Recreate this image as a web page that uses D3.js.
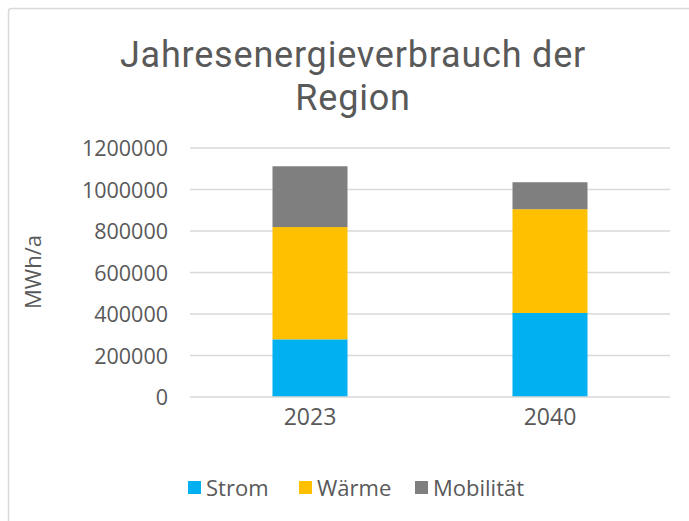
<!DOCTYPE html>
<html>
<head>
<meta charset="utf-8">
<script src="https://cdn.jsdelivr.net/npm/d3@7"></script>
<style>
  html, body { margin: 0; padding: 0; background: #ffffff; }
  svg { display: block; }
  text { font-family: "Open Sans", "DejaVu Sans", sans-serif; fill: #595959; }
  .chart-title { font-family: Roboto, "Open Sans", sans-serif; font-weight: 400; letter-spacing: 0.8px; }
</style>
</head>
<body>
<svg id="chart" width="689" height="521"></svg>
<script>
// Annual energy consumption per year, stacked by sector (MWh/a)
const years = ["2023", "2040"];
const seriesNames = ["Strom", "Wärme", "Mobilität"];
const strom = [278000, 405000];
const waerme = [541000, 500000];
const mobilitaet = [293000, 130000];
const yTicks = [0, 200000, 400000, 600000, 800000, 1000000, 1200000];
const colors = ["#00B0F0", "#FFC000", "#7F7F7F"];

const rows = years.map((y, i) => ({
  year: y, "Strom": strom[i], "Wärme": waerme[i], "Mobilität": mobilitaet[i]
}));

const plot = { left: 190, right: 670, top: 148, bottom: 397 };

const svg = d3.select("#chart");

// chart frame
svg.append("rect")
  .attr("x", 8.5).attr("y", 8.5)
  .attr("width", 700).attr("height", 540)
  .attr("rx", 3)
  .attr("fill", "#ffffff")
  .attr("stroke", "#d9d9d9")
  .attr("stroke-width", 1.5);

const x = d3.scaleBand().domain(years).range([plot.left, plot.right]).paddingInner(0.6875).paddingOuter(0.34375);
const y = d3.scaleLinear().domain([0, 1200000]).range([plot.bottom, plot.top]);

// gridlines
svg.append("g").selectAll("line")
  .data(yTicks.filter(t => t > 0))
  .join("line")
  .attr("x1", plot.left).attr("x2", plot.right)
  .attr("y1", d => y(d)).attr("y2", d => y(d))
  .attr("stroke", "#d9d9d9").attr("stroke-width", 1.5);

// y axis labels
const yAxis = d3.axisLeft(y).tickValues(yTicks).tickFormat(d3.format("d")).tickSize(0).tickPadding(22);
const gy = svg.append("g").attr("transform", `translate(${plot.left},0)`).call(yAxis);
gy.select(".domain").remove();
gy.selectAll("text").style("font-size", "21.5px").attr("fill", "#595959").attr("dy", "0.35em");

// stacked bars
const stack = d3.stack().keys(seriesNames);
const layers = stack(rows);
svg.append("g").selectAll("g")
  .data(layers)
  .join("g")
  .attr("fill", (d, i) => colors[i])
  .selectAll("rect")
  .data(d => d)
  .join("rect")
  .attr("x", d => x(d.data.year))
  .attr("width", x.bandwidth())
  .attr("y", d => y(d[1]))
  .attr("height", d => y(d[0]) - y(d[1]));

// baseline
svg.append("line")
  .attr("x1", plot.left).attr("x2", plot.right)
  .attr("y1", y(0)).attr("y2", y(0))
  .attr("stroke", "#d9d9d9").attr("stroke-width", 1.5);

// x axis labels
const xAxis = d3.axisBottom(x).tickSize(0).tickPadding(12);
const gx = svg.append("g").attr("transform", `translate(0,${plot.bottom})`).call(xAxis);
gx.select(".domain").remove();
gx.selectAll("text").style("font-size", "23px").attr("fill", "#595959");

// title, two lines
const titleLines = ["Jahresenergieverbrauch der", "Region"];
svg.append("g").selectAll("text")
  .data(titleLines)
  .join("text")
  .attr("class", "chart-title")
  .attr("text-anchor", "middle")
  .attr("x", 353)
  .attr("y", (d, i) => 67 + i * 43)
  .style("font-size", "36px")
  .text(d => d);

// y axis title
svg.append("text")
  .attr("transform", "translate(41,272) rotate(-90)")
  .attr("text-anchor", "middle")
  .style("font-size", "22px")
  .text("MWh/a");

// legend
const legendX = [188, 299, 415];
const legend = svg.append("g").selectAll("g")
  .data(seriesNames)
  .join("g")
  .attr("transform", (d, i) => `translate(${legendX[i]},481)`);
legend.append("rect").attr("width", 13).attr("height", 13).attr("fill", (d, i) => colors[i]);
legend.append("text").attr("x", 18).attr("y", 14.5).style("font-size", "22px").text(d => d);
</script>
</body>
</html>
